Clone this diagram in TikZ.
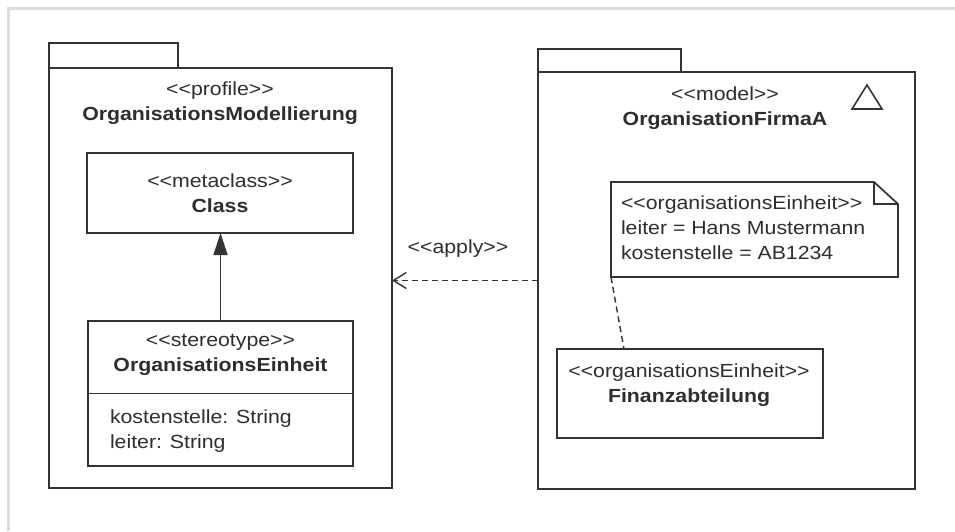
\documentclass[tikz,border=0pt]{standalone}
\usepackage{fontspec}
\setmainfont[FakeStretch=1.12, Ligatures=TeXOff]{Liberation Sans}
\usetikzlibrary{arrows.meta}
\definecolor{ln}{HTML}{333333}
\definecolor{txt}{HTML}{2E2E2E}
\definecolor{frm}{HTML}{DCDCDC}
\begin{document}
\begin{tikzpicture}[x=1pt,y=-1pt,
  every node/.style={font=\fontsize{19}{25}\selectfont, text=txt, inner sep=0pt, outer sep=0pt},
  pkgline/.style={draw=ln, line width=2pt},
  boxline/.style={draw=ln, line width=1.7pt},
  lbl/.style={align=center},
  gen/.style={draw=ln, line width=1.4pt, -{Triangle[length=22pt,width=14pt]}},
  dep/.style={draw=ln, line width=1.4pt, dash pattern=on 6pt off 4pt, -{Straight Barb[length=13pt,width=16pt,line width=1.4pt]}},
  anchorline/.style={draw=ln, line width=1.4pt, dash pattern=on 6pt off 4pt}]
\useasboundingbox (0,0) rectangle (955,531);
\fill[white] (0,0) rectangle (955,531);
% frame
\draw[frm, line width=3pt] (8,531) -- (8,8) -- (955,8);

% left package
\node[pkgline, minimum width=129pt, minimum height=25pt] (ltab) at (113.5,55.5) {};
\node[pkgline, fill=white, minimum width=343pt, minimum height=420pt] (lpkg) at (220.5,278) {};
\node[lbl] (lpkgt) at (220,103.5) {<<profile>>\\\textbf{OrganisationsModellierung}};

% Class
\node[boxline, lbl, minimum width=266pt, minimum height=80pt] (cls) at (220,193) {<<metaclass>>\\\textbf{Class}};

% stereotype
\node[boxline, minimum width=265pt, minimum height=145pt] (st) at (220.5,393.5) {};
\draw[ln, line width=1.4pt] (st.west) -- (st.east);
\node[lbl] (stt) at (220.5,355) {<<stereotype>>\\\textbf{OrganisationsEinheit}};
\node[align=left, anchor=west] (sta) at (110,431) {kostenstelle: String\\leiter: String};

\draw[gen] (st.north) -- (st.north |- cls.south);

% right package
\node[pkgline, minimum width=143pt, minimum height=23pt] (rtab) at (609.5,60.5) {};
\node[pkgline, fill=white, minimum width=377pt, minimum height=417pt] (rpkg) at (726.5,280.5) {};
\node[lbl] (rpkgt) at (725,108.5) {<<model>>\\\textbf{OrganisationFirmaA}};
\draw[ln, line width=1.6pt, line join=miter] (852,109) -- (867,85) -- (882,109) -- cycle;

% note
\node[minimum width=287pt, minimum height=95pt] (note) at (754.5,229.5) {};
\draw[ln, line width=1.7pt, line join=miter]
  (note.south west) -- (note.north west) -- ([xshift=-24pt]note.north east)
  -- ([yshift=-22pt]note.north east) -- (note.south east) -- cycle;
\draw[ln, line width=1.4pt]
  ([xshift=-24pt]note.north east) -- ([xshift=-24pt,yshift=-22pt]note.north east)
  -- ([yshift=-22pt]note.north east);
\node[align=left, anchor=west] (notet) at (621,228) {<<organisationsEinheit>>\\leiter = Hans Mustermann\\kostenstelle = AB1234};

% Finanzabteilung
\node[boxline, minimum width=266pt, minimum height=89pt] (fin) at (690,393.5) {};
\node[lbl] (fint) at (689,385) {<<organisationsEinheit>>\\\textbf{Finanzabteilung}};

\draw[anchorline] (note.south west) -- ([xshift=67pt]fin.north west);

% apply
\draw[dep] (rpkg.west) -- (lpkg.east |- rpkg.west);
\node (apply) at (458,249) {<<apply>>};
\end{tikzpicture}
\end{document}
